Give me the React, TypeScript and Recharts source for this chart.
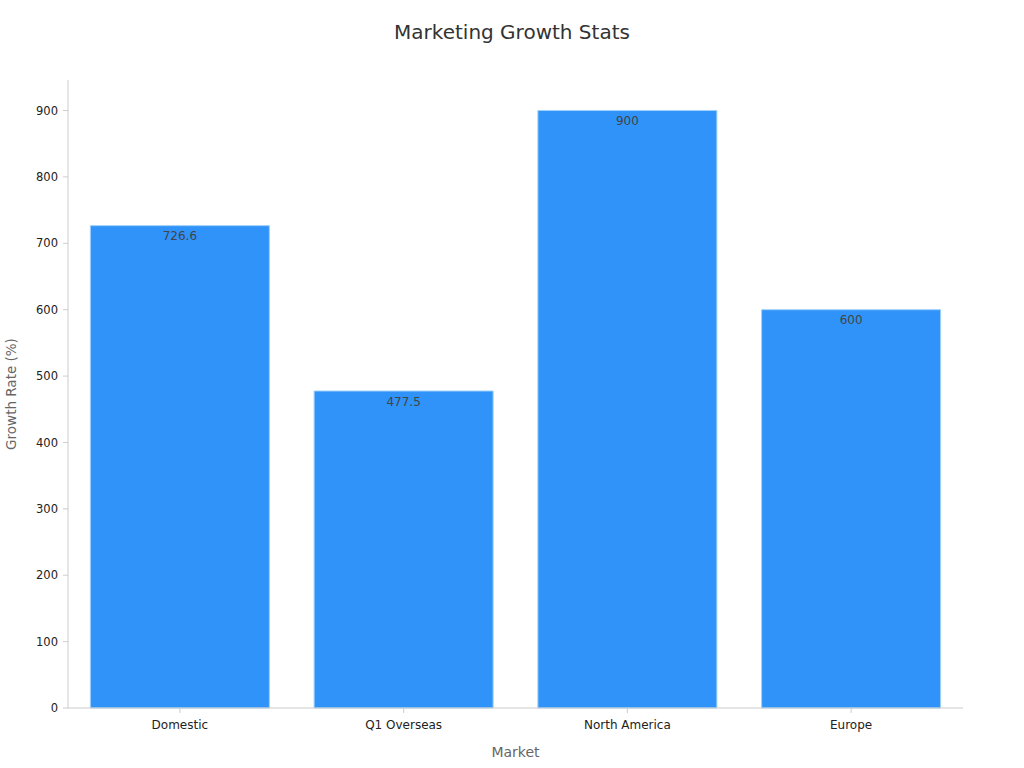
import React from 'react';
import { BarChart, Bar, XAxis, YAxis, LabelList, Label } from 'recharts';

const markets = ['Domestic', 'Q1 Overseas', 'North America', 'Europe'];
const growthRates = [726.6, 477.5, 900, 600];
const yTicks = [0, 100, 200, 300, 400, 500, 600, 700, 800, 900];

const data = markets.map((m, i) => ({ market: m, rate: growthRates[i] }));

const font = 'DejaVu Sans, sans-serif';

const App: React.FC = () => {
  return (
    <div style={{ position: 'absolute', left: 0, top: 0, width: 1024, height: 768, background: '#fff', fontFamily: font }}>
      <div style={{ position: 'absolute', top: 20, width: 1024, textAlign: 'center', fontSize: 20, color: '#333' }}>
        Marketing Growth Stats
      </div>
      <BarChart
        width={1024}
        height={768}
        data={data}
        margin={{ top: 80, right: 61, bottom: 0, left: 0 }}
        barCategoryGap="10%"
      >
        <XAxis
          dataKey="market"
          height={60}
          tickSize={5}
          tickMargin={7}
          stroke="#ccc"
          tick={{ fill: '#222', fontSize: 12, fontFamily: font }}
        >
          <Label value="Market" position="insideBottom" offset={11} style={{ fill: '#666', fontSize: 14, fontFamily: font }} />
        </XAxis>
        <YAxis
          width={68}
          domain={[0, 946]}
          ticks={yTicks}
          tickSize={5}
          tickMargin={5}
          stroke="#ccc"
          tick={{ fill: '#222', fontSize: 11.5, fontFamily: font }}
        >
          <Label
            value="Growth Rate (%)"
            angle={-90}
            position="insideLeft"
            offset={11}
            style={{ fill: '#666', fontSize: 13.5, fontFamily: font, textAnchor: 'middle' }}
          />
        </YAxis>
        <Bar dataKey="rate" fill="#2f93f9" stroke="#9fd0fb" strokeWidth={1} isAnimationActive={false}>
          <LabelList dataKey="rate" position="insideTop" offset={6} style={{ fill: '#444', fontSize: 12, fontFamily: font }} />
        </Bar>
      </BarChart>
    </div>
  );
};

export default App;
